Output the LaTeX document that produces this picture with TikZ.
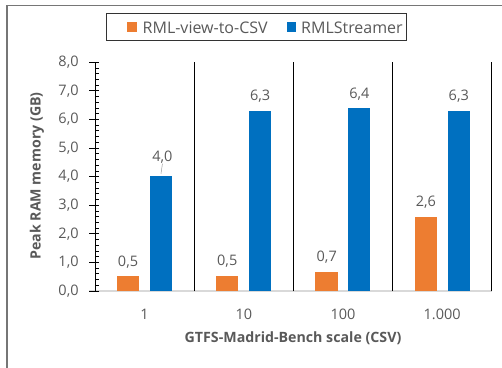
\documentclass[tikz,border=0pt]{standalone}
\usepackage{fontspec}
\setmainfont{Open Sans}
\definecolor{barorange}{HTML}{ED7D31}
\definecolor{barblue}{HTML}{0070C0}
\definecolor{labelgray}{HTML}{595959}
\definecolor{axisgray}{HTML}{D9D9D9}
\definecolor{framegray}{HTML}{767676}
\tikzset{
  numlabel/.style={text=labelgray,font=\fontsize{14.5}{17}\selectfont,inner sep=0pt},
  leglabel/.style={text=labelgray,font=\fontsize{16}{19}\selectfont,inner sep=0pt},
  titlelabel/.style={text=labelgray,font=\fontsize{14.2}{17}\selectfont\bfseries,inner sep=0pt},
  orangebar/.style={fill=barorange,draw=none},
  bluebar/.style={fill=barblue,draw=none}
}
\begin{document}
\begin{tikzpicture}[x=1pt,y=1pt]
  \useasboundingbox (0,0) rectangle (502,367);
  % frame
  \draw[framegray,line width=1.5pt] (7,-2) -- (7,361.5) -- (504,361.5);
  % legend
  \draw[black!80,line width=0.8pt] (106.7,326.3) rectangle (406,353.7);
  \fill[barorange] (127.3,335) rectangle (137,344.7);
  \node[leglabel,anchor=west] (legorange) at (142.5,339.5) {RML-view-to-CSV};
  \fill[barblue] (286.7,335) rectangle (296.4,344.7);
  \node[leglabel,anchor=west] (legblue) at (301,339.5) {RMLStreamer};
  % axis titles
  \node[titlelabel,rotate=90] (ytitle) at (37,191) {Peak RAM memory (GB)};
  \node[titlelabel] (xtitle) at (293,29) {GTFS-Madrid-Bench scale (CSV)};
  \begin{scope}[shift={(95,76)},x=99.2pt,y=28.6pt]
    % axes
    \draw[axisgray,line width=1.2pt] (-0.06,0) -- (4,0);
    \foreach \i in {1,...,4}
      \draw[black,line width=1.3pt] (\i,0) -- (\i,8);
    \foreach \k in {0,0.2,...,7.9}
      \draw[black,line width=0.7pt] (0,\k) -- ++(4pt,0);
    \foreach \k in {0,...,8}
      \draw[black,line width=0.8pt] (-6pt,\k) -- (4pt,\k)
        node[numlabel,anchor=east,xshift=-20pt] (ytick\k) {\k,0};
    \draw[black,line width=1pt] (0,0) -- (0,8);
    % categories
    \node[numlabel] (cat1) at (0.5,-23pt) {1};
    \node[numlabel] (cat2) at (1.5,-23pt) {10};
    \node[numlabel] (cat3) at (2.5,-23pt) {100};
    \node[numlabel] (cat4) at (3.5,-23pt) {1.000};
    % RML-view-to-CSV
    \draw[orangebar] (0.222,0) rectangle (0.444,0.51);
    \draw[orangebar] (1.222,0) rectangle (1.444,0.52);
    \draw[orangebar] (2.222,0) rectangle (2.450,0.68);
    \draw[orangebar] (3.222,0) rectangle (3.450,2.59);
    \node[numlabel] (vo1) at (0.333,0.51) [yshift=14.5pt] {0,5};
    \node[numlabel] (vo2) at (1.333,0.52) [yshift=14.5pt] {0,5};
    \node[numlabel] (vo3) at (2.336,0.68) [yshift=14.5pt] {0,7};
    \node[numlabel] (vo4) at (3.336,2.59) [yshift=14.5pt] {2,6};
    % RMLStreamer
    \draw[bluebar] (0.555,0) rectangle (0.775,4.03);
    \draw[bluebar] (1.555,0) rectangle (1.775,6.30);
    \draw[bluebar] (2.555,0) rectangle (2.775,6.39);
    \draw[bluebar] (3.555,0) rectangle (3.780,6.30);
    \node[numlabel] (vb1) at (0.680,4.03) [yshift=18.5pt] {4,0};
    \draw[labelgray!60,line width=0.5pt] (0.665,4.03) ++(0,2pt) -- (vb1.south);
    \node[numlabel] (vb2) at (1.665,6.30) [yshift=14.5pt] {6,3};
    \node[numlabel] (vb3) at (2.665,6.39) [yshift=14.5pt] {6,4};
    \node[numlabel] (vb4) at (3.667,6.30) [yshift=14.5pt] {6,3};
  \end{scope}
\end{tikzpicture}
\end{document}
